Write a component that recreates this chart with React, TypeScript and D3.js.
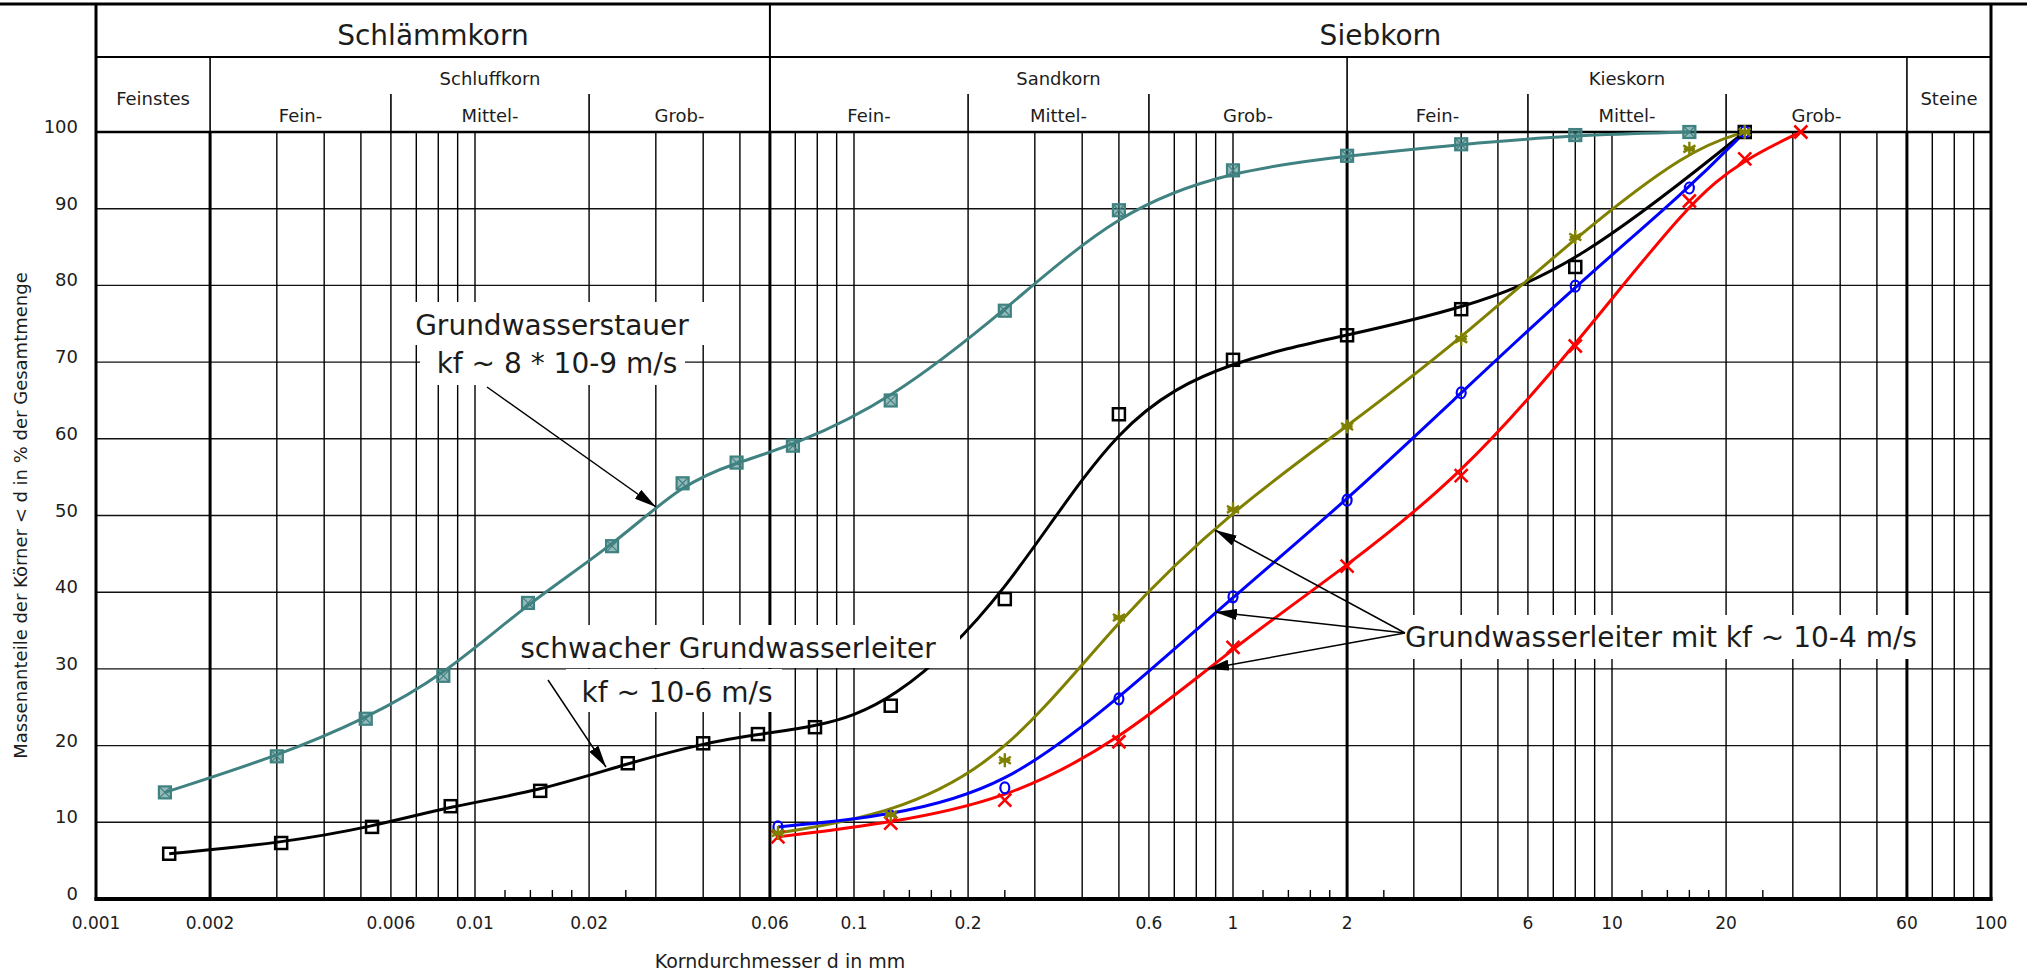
import React from "react";
import * as d3 from "d3";

// ---------- data ----------
const tealD = [0.00152, 0.003, 0.00515, 0.00825, 0.0138, 0.023, 0.0353, 0.049, 0.069, 0.125, 0.25, 0.5, 1, 2, 4, 8, 16];
const tealP = [13.9, 18.6, 23.5, 29.1, 38.6, 46.0, 54.2, 56.9, 59.1, 65.0, 76.7, 89.8, 95.0, 96.9, 98.4, 99.6, 100];

const blackD = [0.00156, 0.00308, 0.00535, 0.00863, 0.01486, 0.0253, 0.04, 0.0558, 0.0789, 0.125, 0.25, 0.5, 1, 2, 4, 8, 22.4];
const blackP = [5.9, 7.3, 9.4, 12.1, 14.1, 17.7, 20.3, 21.5, 22.4, 25.2, 39.1, 63.2, 70.3, 73.5, 76.9, 82.4, 100];

const sieveD = [0.063, 0.125, 0.25, 0.5, 1, 2, 4, 8, 16, 22.4];
const oliveP = [8.6, 11.0, 18.1, 36.7, 50.8, 61.6, 73.0, 86.3, 97.8, 100];
const blueP = [9.4, 10.8, 14.5, 26.1, 39.4, 52.0, 66.0, 79.9, 92.7, 100];

const redD = [0.063, 0.125, 0.25, 0.5, 1, 2, 4, 8, 16, 22.4, 31.5];
const redP = [8.1, 9.9, 12.9, 20.5, 32.8, 43.4, 55.2, 72.1, 91.0, 96.5, 100];

const yTicks = [0, 10, 20, 30, 40, 50, 60, 70, 80, 90, 100];
const xTickLabels = [0.001, 0.002, 0.006, 0.01, 0.02, 0.06, 0.1, 0.2, 0.6, 1, 2, 6, 10, 20, 60, 100];
const decades = [0.001, 0.01, 0.1, 1, 10];
const gridMult = [1, 2, 3, 4, 5, 6, 7, 8, 9];
const minorMult = [1.2, 1.4, 1.6, 1.8, 2.5];
const thickLines = [0.002, 0.06, 2, 60];

const mainGroups = [
  { label: "Schlämmkorn", from: 0.001, to: 0.06 },
  { label: "Siebkorn", from: 0.06, to: 100 },
];
const subGroups = [
  { label: "Feinstes", from: 0.001, to: 0.002, mid: true },
  { label: "Schluffkorn", from: 0.002, to: 0.06, mid: false },
  { label: "Sandkorn", from: 0.06, to: 2, mid: false },
  { label: "Kieskorn", from: 2, to: 60, mid: false },
  { label: "Steine", from: 60, to: 100, mid: true },
];
const fractions = [
  { label: "Fein-", from: 0.002, to: 0.006 },
  { label: "Mittel-", from: 0.006, to: 0.02 },
  { label: "Grob-", from: 0.02, to: 0.06 },
  { label: "Fein-", from: 0.06, to: 0.2 },
  { label: "Mittel-", from: 0.2, to: 0.6 },
  { label: "Grob-", from: 0.6, to: 2 },
  { label: "Fein-", from: 2, to: 6 },
  { label: "Mittel-", from: 6, to: 20 },
  { label: "Grob-", from: 20, to: 60 },
];
const fractionDividers = [0.006, 0.02, 0.2, 0.6, 6, 20];

// ---------- layout ----------
const W = 2027;
const H = 973;
const X0 = 96, X1 = 1991;
const Y0 = 899, Y100 = 132;
const ROW1 = 57;
const TOP = 4;
const FONT = "'DejaVu Sans', Verdana, sans-serif";
const TXT = "#1c1c1c";

const x = d3.scaleLog().domain([0.001, 100]).range([X0, X1]);
const y = d3.scaleLinear().domain([0, 100]).range([Y0, Y100]);

const TEAL = "#3f8281";
const OLIVE = "#808000";
const BLUE = "#0000ff";
const RED = "#ff0000";

function fmt(v: number) {
  return String(v);
}

const line = d3
  .line<[number, number]>()
  .x((d) => x(d[0]))
  .y((d) => y(d[1]))
  .curve(d3.curveBasis);

function zip(a: number[], b: number[]): [number, number][] {
  return a.map((v, i) => [v, b[i]]);
}

function SquareX({ cx, cy, c }: { cx: number; cy: number; c: string }) {
  const s = 6;
  return (
    <g>
      <rect x={cx - s} y={cy - s} width={2 * s} height={2 * s} fill={c} fillOpacity={0.55} stroke={c} strokeWidth={2.2} />
      <path d={`M${cx - s},${cy - s}L${cx + s},${cy + s}M${cx + s},${cy - s}L${cx - s},${cy + s}`} stroke={c} strokeWidth={1.2} />
    </g>
  );
}
function Square({ cx, cy }: { cx: number; cy: number }) {
  const s = 6;
  return <rect x={cx - s} y={cy - s} width={2 * s} height={2 * s} fill="#fff" fillOpacity={0} stroke="#000" strokeWidth={2.5} />;
}
function Star({ cx, cy, c }: { cx: number; cy: number; c: string }) {
  const r = 7;
  const parts: string[] = [];
  for (let k = 0; k < 3; k++) {
    const a = (Math.PI / 3) * k + Math.PI / 2;
    parts.push(`M${cx + r * Math.cos(a)},${cy + r * Math.sin(a)}L${cx - r * Math.cos(a)},${cy - r * Math.sin(a)}`);
  }
  parts.push(`M${cx - r * 0.8},${cy}L${cx + r * 0.8},${cy}`);
  return <path d={parts.join("")} stroke={c} strokeWidth={2.4} />;
}
function Circle({ cx, cy, c }: { cx: number; cy: number; c: string }) {
  return <ellipse cx={cx} cy={cy} rx={4.5} ry={5.5} fill="none" stroke={c} strokeWidth={2.2} />;
}
function Cross({ cx, cy, c }: { cx: number; cy: number; c: string }) {
  const r = 6.5;
  return <path d={`M${cx - r},${cy - r}L${cx + r},${cy + r}M${cx + r},${cy - r}L${cx - r},${cy + r}`} stroke={c} strokeWidth={2.6} />;
}

export default function App() {
  const gridVals: number[] = [];
  decades.forEach((dec) => gridMult.forEach((m) => gridVals.push(+(dec * m).toPrecision(3))));
  gridVals.push(100);
  const minorVals: number[] = [];
  decades.slice(1).forEach((dec) => minorMult.forEach((m) => minorVals.push(+(dec * m).toPrecision(3))));

  const teal = zip(tealD, tealP);
  const black = zip(blackD, blackP);
  const olive = zip(sieveD, oliveP);
  const blue = zip(sieveD, blueP);
  const red = zip(redD, redP);

  return (
    <svg width={W} height={H} viewBox={`0 0 ${W} ${H}`} style={{ display: "block", position: "absolute", left: 0, top: 0, background: "#fff" }} fontFamily={FONT}>
      <defs>
        <marker id="ah" viewBox="0 0 20 10" refX={20} refY={5} markerWidth={22} markerHeight={11} markerUnits="userSpaceOnUse" orient="auto">
          <path d="M0,0L20,5L0,10Z" fill="#000" />
        </marker>
      </defs>
      <rect x={0} y={0} width={W} height={H} fill="#fff" />

      {/* horizontal gridlines */}
      {yTicks.filter((t) => t > 0 && t < 100).map((t) => (
        <line key={"h" + t} x1={X0} x2={X1} y1={y(t)} y2={y(t)} stroke="#111" strokeWidth={1.4} />
      ))}
      {/* vertical gridlines */}
      {gridVals.map((v) => (
        <line key={"v" + v} x1={x(v)} x2={x(v)} y1={Y100} y2={Y0} stroke="#000" strokeWidth={thickLines.includes(v) ? 3 : 1.4} />
      ))}
      {minorVals.map((v) => (
        <line key={"m" + v} x1={x(v)} x2={x(v)} y1={Y0 - 9} y2={Y0} stroke="#000" strokeWidth={1.4} />
      ))}

      {/* header */}
      <line x1={0} x2={W} y1={TOP} y2={TOP} stroke="#000" strokeWidth={3} />
      <line x1={X0} x2={X1} y1={ROW1} y2={ROW1} stroke="#000" strokeWidth={2} />
      <line x1={X0} x2={X1} y1={Y100} y2={Y100} stroke="#000" strokeWidth={2.5} />
      {mainGroups.map((g) => (
        <text key={g.label} x={(x(g.from) + x(g.to)) / 2} y={45} textAnchor="middle" fontSize={28} fill={TXT}>
          {g.label}
        </text>
      ))}
      <line x1={x(0.06)} x2={x(0.06)} y1={TOP} y2={Y100} stroke="#000" strokeWidth={2} />
      {subGroups.map((g) => (
        <g key={g.label}>
          <line x1={x(g.from)} x2={x(g.from)} y1={ROW1} y2={Y100} stroke="#000" strokeWidth={1.6} />
          <text x={(x(g.from) + x(g.to)) / 2} y={g.mid ? 105 : 85} textAnchor="middle" fontSize={18} fill={TXT}>
            {g.label}
          </text>
        </g>
      ))}
      {fractionDividers.map((v) => (
        <line key={"fd" + v} x1={x(v)} x2={x(v)} y1={94} y2={Y100} stroke="#000" strokeWidth={1.6} />
      ))}
      {fractions.map((f, i) => (
        <text key={"fr" + i} x={(x(f.from) + x(f.to)) / 2} y={122} textAnchor="middle" fontSize={18} fill={TXT}>
          {f.label}
        </text>
      ))}

      {/* frame */}
      <line x1={X0} x2={X0} y1={TOP} y2={Y0 + 1.5} stroke="#000" strokeWidth={3} />
      <line x1={X1} x2={X1} y1={TOP} y2={Y0 + 1.5} stroke="#000" strokeWidth={3} />
      <line x1={X0 - 1.5} x2={X1 + 1.5} y1={Y0} y2={Y0} stroke="#000" strokeWidth={4} />

      {/* axis labels */}
      {yTicks.map((t) => (
        <text key={"yl" + t} x={78} y={y(t) + 1} textAnchor="end" fontSize={18} fill={TXT}>
          {t}
        </text>
      ))}
      {xTickLabels.map((v) => (
        <text key={"xl" + v} x={x(v)} y={929} textAnchor="middle" fontSize={17} fill={TXT}>
          {fmt(v)}
        </text>
      ))}
      <text x={780} y={968} textAnchor="middle" fontSize={19} fill={TXT}>
        Korndurchmesser d in mm
      </text>
      <text transform={`translate(27,${(Y0 + Y100) / 2}) rotate(-90)`} textAnchor="middle" fontSize={18} fill={TXT}>
        Massenanteile der Körner &lt; d in % der Gesamtmenge
      </text>

      {/* curves */}
      <path d={line(teal) || ""} fill="none" stroke={TEAL} strokeWidth={3} />
      <path d={line(black) || ""} fill="none" stroke="#000" strokeWidth={3} />
      <path d={line(olive) || ""} fill="none" stroke={OLIVE} strokeWidth={3} />
      <path d={line(blue) || ""} fill="none" stroke={BLUE} strokeWidth={3} />
      <path d={line(red) || ""} fill="none" stroke={RED} strokeWidth={3} />

      {/* markers */}
      {teal.map((d, i) => <SquareX key={"t" + i} cx={x(d[0])} cy={y(d[1])} c={TEAL} />)}
      {black.map((d, i) => <Square key={"b" + i} cx={x(d[0])} cy={y(d[1])} />)}
      {blue.map((d, i) => <Circle key={"bl" + i} cx={x(d[0])} cy={y(d[1])} c={BLUE} />)}
      {red.map((d, i) => <Cross key={"r" + i} cx={x(d[0])} cy={y(d[1])} c={RED} />)}
      {olive.map((d, i) => <Star key={"o" + i} cx={x(d[0])} cy={y(d[1])} c={OLIVE} />)}

      {/* annotation 1 */}
      <rect x={408} y={302} width={298} height={43} fill="#fff" />
      <rect x={420} y={345} width={265} height={40} fill="#fff" />
      <text x={552} y={335} textAnchor="middle" fontSize={28} fill={TXT}>Grundwasserstauer</text>
      <text x={557} y={373} textAnchor="middle" fontSize={28} fill={TXT}>kf ~ 8 * 10-9 m/s</text>
      <line x1={487} y1={387} x2={656} y2={507} stroke="#000" strokeWidth={1.5} markerEnd="url(#ah)" />

      {/* annotation 2 */}
      <rect x={505} y={625} width={455} height={43} fill="#fff" />
      <rect x={566} y={669} width={216} height={43} fill="#fff" />
      <text x={728} y={658} textAnchor="middle" fontSize={28} fill={TXT}>schwacher Grundwasserleiter</text>
      <text x={677} y={702} textAnchor="middle" fontSize={28} fill={TXT}>kf ~ 10-6 m/s</text>
      <line x1={548} y1={680} x2={606} y2={767} stroke="#000" strokeWidth={1.5} markerEnd="url(#ah)" />

      {/* annotation 3 */}
      <rect x={1398} y={615} width={525} height={44} fill="#fff" />
      <text x={1661} y={647} textAnchor="middle" fontSize={28} fill={TXT}>Grundwasserleiter mit kf ~ 10-4 m/s</text>
      <line x1={1405} y1={633} x2={1215} y2={530} stroke="#000" strokeWidth={1.5} markerEnd="url(#ah)" />
      <line x1={1405} y1={633} x2={1215} y2={612} stroke="#000" strokeWidth={1.5} markerEnd="url(#ah)" />
      <line x1={1405} y1={633} x2={1207} y2={669} stroke="#000" strokeWidth={1.5} markerEnd="url(#ah)" />
    </svg>
  );
}
